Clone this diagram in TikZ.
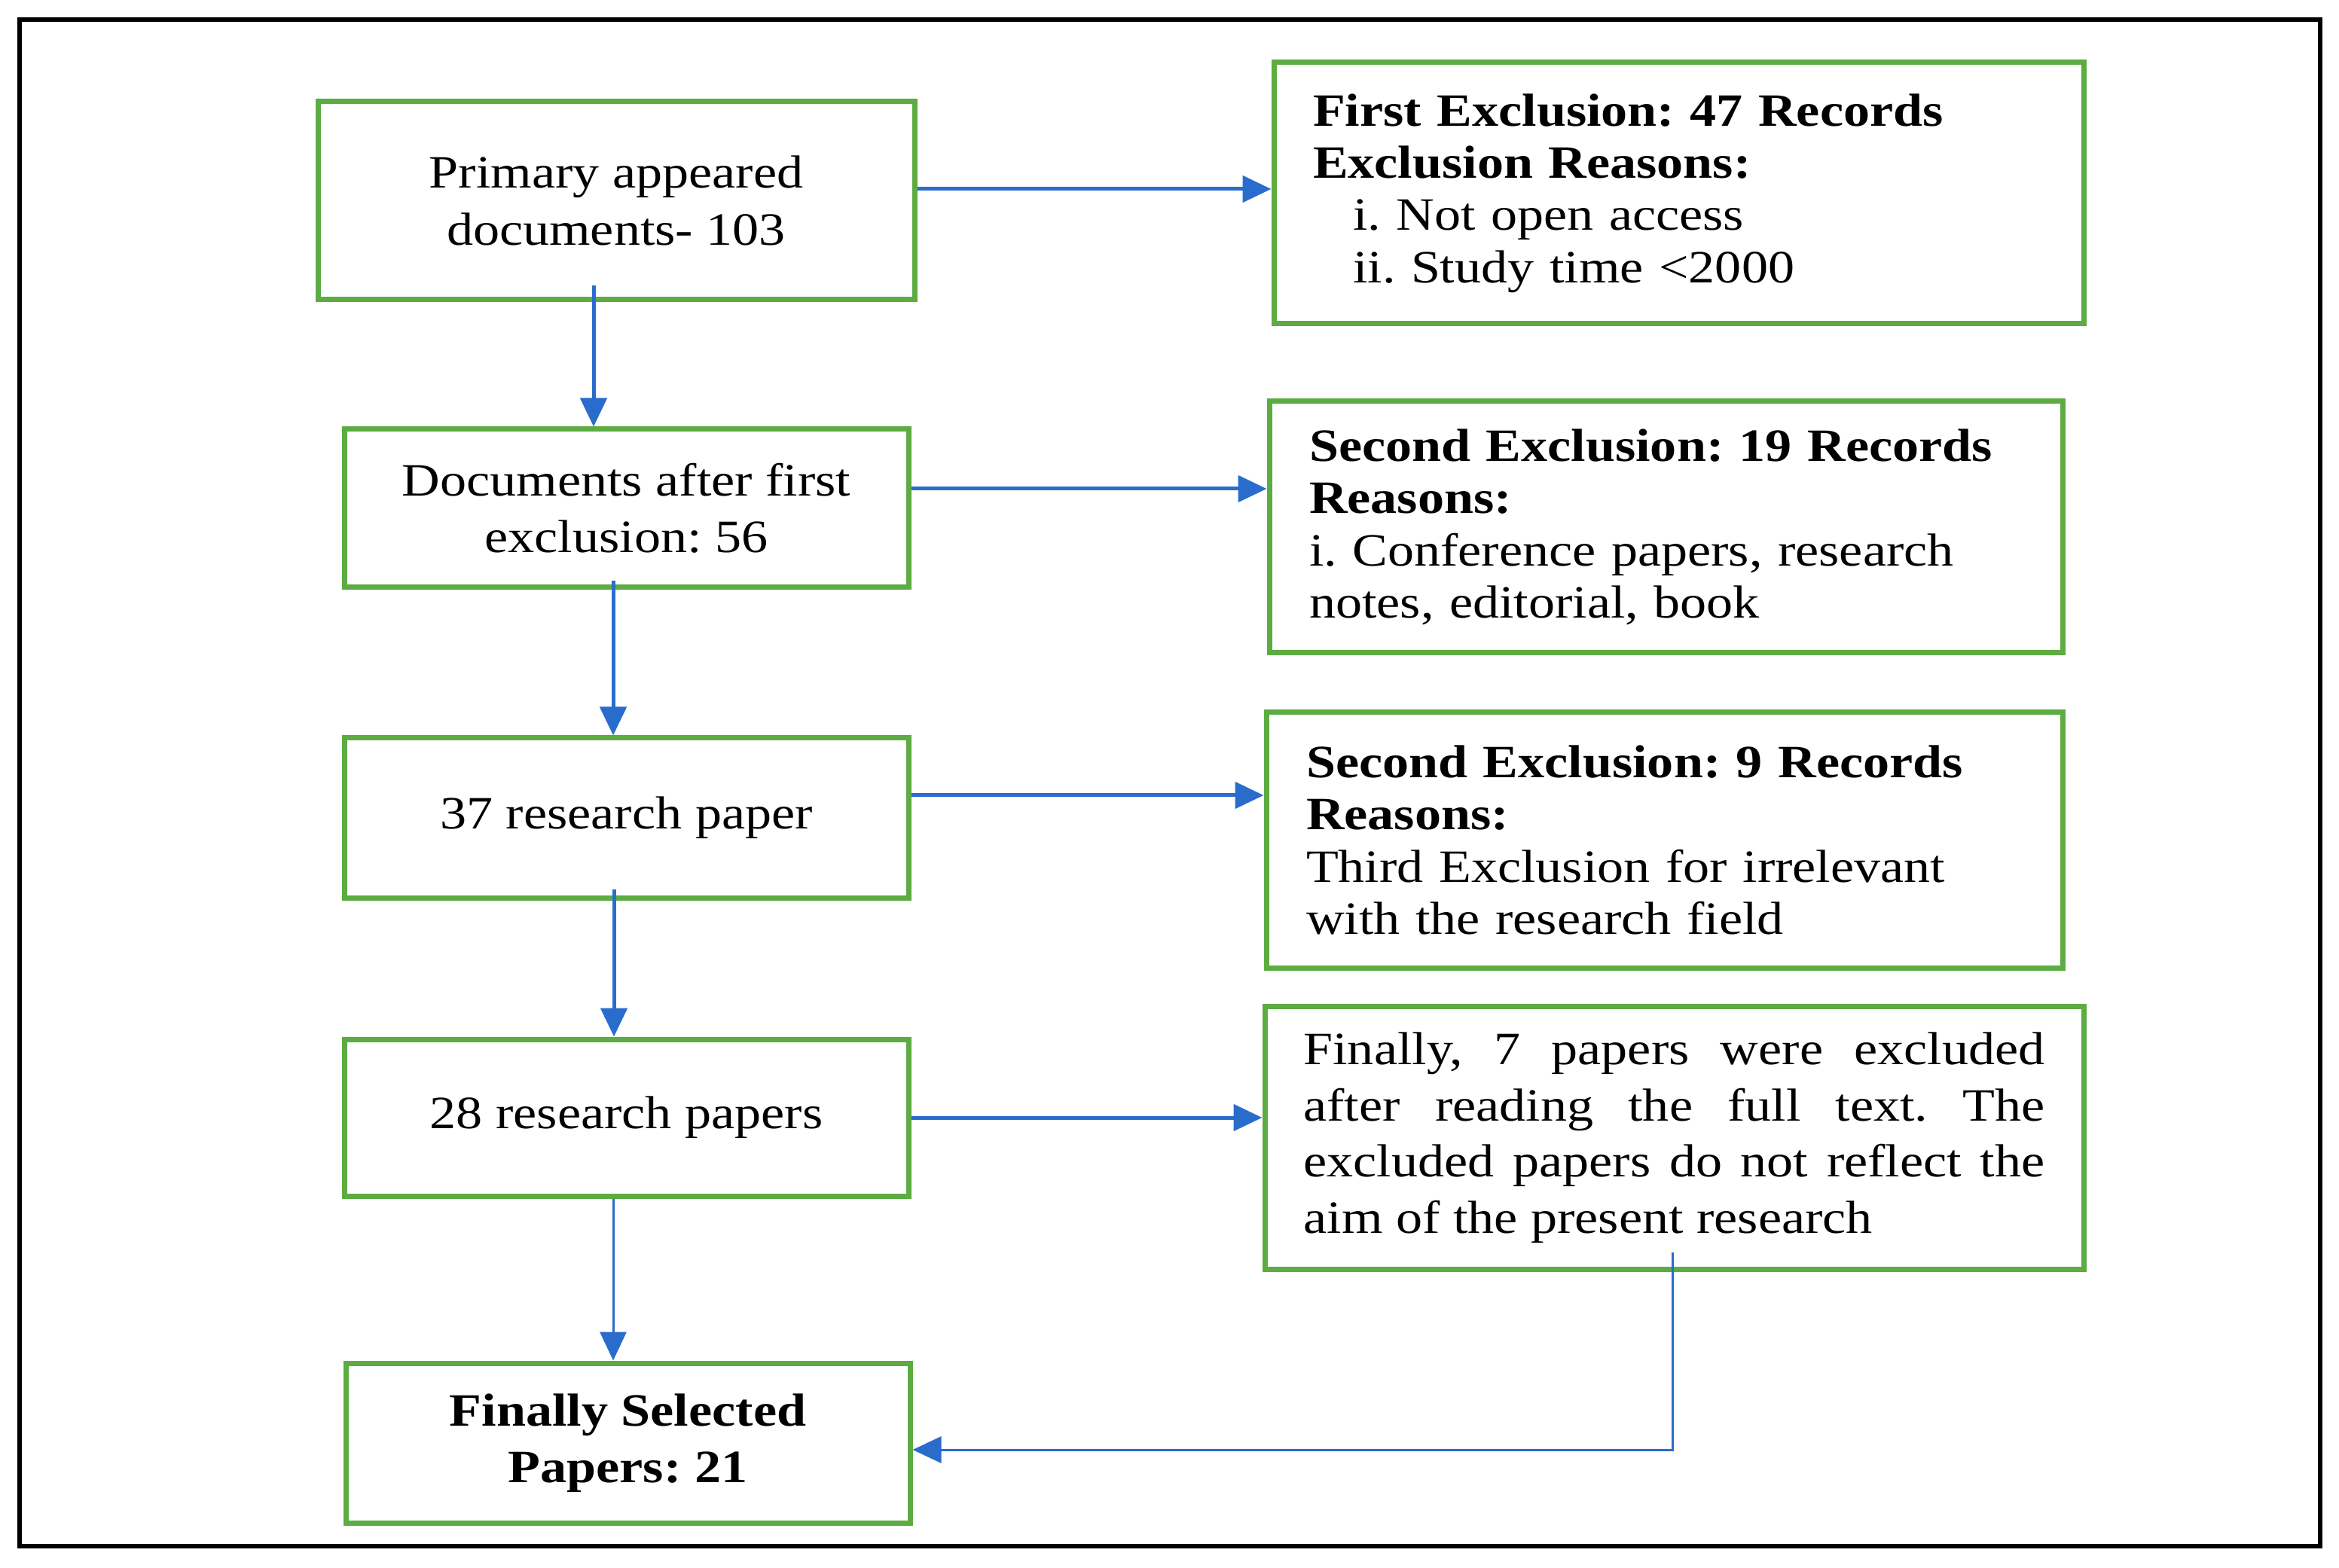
\documentclass[tikz,border=0pt]{standalone}
\usepackage{fontspec}
\setmainfont{Liberation Serif}[FakeStretch=1.14]
\usetikzlibrary{arrows.meta}
\frenchspacing

\definecolor{boxgreen}{RGB}{92,172,66}
\definecolor{flowblue}{RGB}{42,108,204}

\begin{document}
\begin{tikzpicture}[
    leftbox/.style={draw=boxgreen, line width=0.07cm, align=center, inner sep=0,
        font=\fontsize{17.5}{21.4}\selectfont},
    reasonbox/.style={draw=boxgreen, line width=0.07cm, align=left, inner sep=0,
        font=\fontsize{17.5}{19.7}\selectfont},
    flow/.style={draw=flowblue, line width=0.05cm, -{Triangle[length=0.38cm,width=0.35cm]}},
    thinflow/.style={flow, line width=0.03cm}
]

\useasboundingbox (0,0) rectangle (31.05,-20.82);

% Outer frame
\draw[line width=0.055cm] (0.26,-0.26) rectangle (30.80,-20.53);

% Left column
\node[leftbox, minimum width=7.92cm, minimum height=2.63cm] (p1) at (8.18,-2.665)
    {Primary appeared\\documents- 103};
\node[leftbox, minimum width=7.49cm, minimum height=2.10cm] (p2) at (8.315,-6.75)
    {Documents after first\\exclusion: 56};
\node[leftbox, minimum width=7.49cm, minimum height=2.12cm] (p3) at (8.315,-10.86)
    {37 research paper};
\node[leftbox, minimum width=7.49cm, minimum height=2.08cm] (p4) at (8.315,-14.84)
    {28 research papers};
\node[leftbox, minimum width=7.49cm, minimum height=2.12cm] (p5) at (8.335,-19.16)
    {\textbf{Finally Selected}\\\textbf{Papers: 21}};

% Right column
\def\ind{\hspace*{0.53cm}}
\node[reasonbox, minimum width=10.75cm, minimum height=3.47cm, text width=9.71cm] (r1) at (22.285,-2.565)
    {\textbf{First Exclusion: 47 Records}\\\textbf{Exclusion Reasons:}\\\ind i. Not open access\\\ind ii. Study time <2000};
\node[reasonbox, minimum width=10.53cm, minimum height=3.34cm, text width=9.47cm] (r2) at (22.115,-7.0)
    {\textbf{Second Exclusion: 19 Records}\\\textbf{Reasons:}\\i. Conference papers, research\\notes, editorial, book};
\node[reasonbox, minimum width=10.57cm, minimum height=3.39cm, text width=9.51cm] (r3) at (22.095,-11.155)
    {\textbf{Second Exclusion: 9 Records}\\\textbf{Reasons:}\\Third Exclusion for irrelevant\\with the research field};
\node[reasonbox, align=justify, font=\fontsize{17.5}{21.2}\selectfont,
    minimum width=10.87cm, minimum height=3.49cm, text width=9.84cm] (r4) at (22.225,-15.105)
    {Finally, 7 papers were excluded\linebreak after reading the full text. The\linebreak excluded papers do not reflect the\linebreak aim of the present research};

% Downward flow
\draw[flow] ([xshift=-3mm,yshift=2.2mm]p1.south) -- ([xshift=-3mm]p1.south |- p2.north);
\draw[flow] ([xshift=-1.75mm,yshift=1.2mm]p2.south) -- ([xshift=-1.75mm]p2.south |- p3.north);
\draw[flow] ([xshift=-1.65mm,yshift=1.5mm]p3.south) -- ([xshift=-1.65mm]p3.south |- p4.north);
\draw[thinflow] ([xshift=-1.75mm]p4.south) -- ([xshift=-1.75mm]p4.south |- p5.north);

% Exclusions
\draw[flow] ([yshift=1.55mm]p1.east) -- ([yshift=1.55mm]p1.east -| r1.west);
\draw[flow] ([yshift=2.6mm]p2.east) -- ([yshift=2.6mm]p2.east -| r2.west);
\draw[flow] ([yshift=3mm]p3.east) -- ([yshift=3mm]p3.east -| r3.west);
\draw[flow] (p4.east) -- (p4.east -| r4.west);

% Back to the final selection
\draw[thinflow] ([xshift=-0.25mm,yshift=2.6mm]r4.south) |- ([yshift=-0.9mm]p5.east);

\end{tikzpicture}
\end{document}
